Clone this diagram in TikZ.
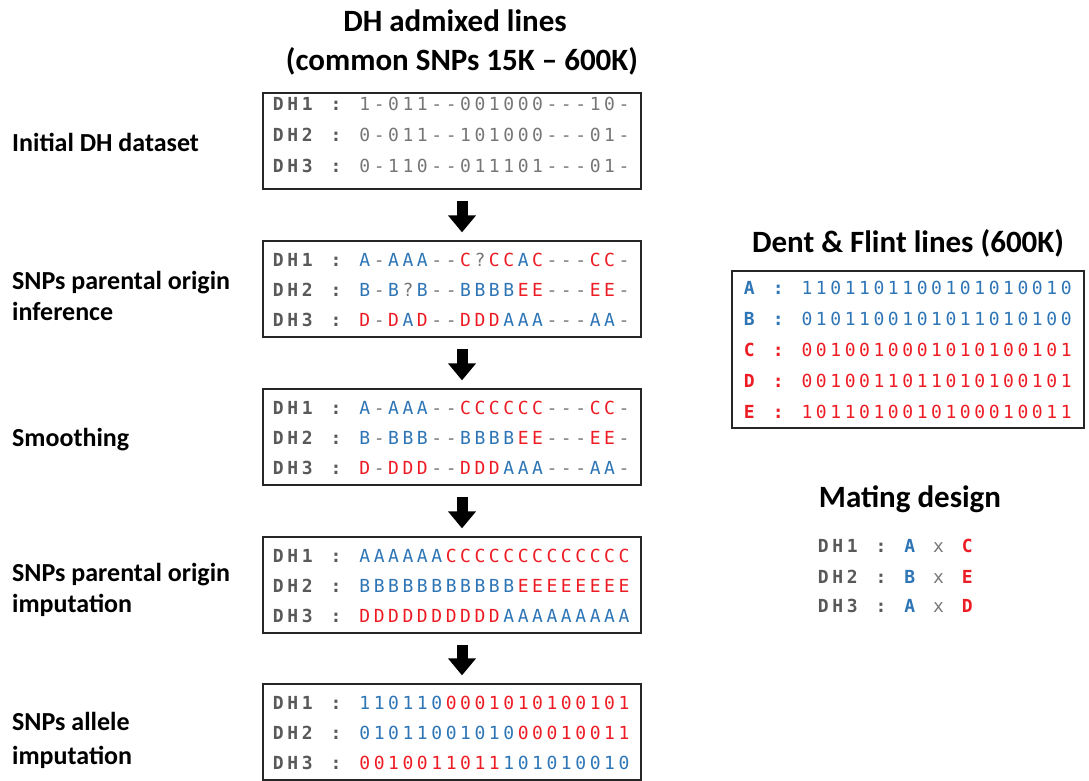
\documentclass[tikz,border=0pt]{standalone}
\usepackage{fontspec}
\setmainfont{Carlito}
\newfontfamily\monof{DejaVu Sans Mono}
\usetikzlibrary{arrows.meta}
\definecolor{cblue}{RGB}{46,117,182}
\definecolor{cred}{RGB}{237,28,36}
\definecolor{cgrey}{RGB}{89,89,89}
\definecolor{cdata}{RGB}{118,118,118}
\newlength\pch \setlength\pch{14.4pt}
\makeatletter
\def\chs#1{\chs@loop#1\relax}
\def\chs@loop#1{\ifx\relax#1\else\makebox[\pch]{#1}\expandafter\chs@loop\fi}
\makeatother
\newcommand\Bl[1]{\textcolor{cblue}{\chs{#1}}}
\newcommand\Rd[1]{\textcolor{cred}{\chs{#1}}}
\newcommand\Gr[1]{\textcolor{cdata}{\chs{#1}}}
\newcommand\spc{\makebox[\pch]{}}
\newcommand\dhl[1]{\textcolor{cgrey}{\bfseries\chs{#1}\spc\makebox[\pch]{:}\spc}}
\newcommand\pl[2]{\textcolor{#1}{\bfseries\chs{#2}\spc\makebox[\pch]{:}\spc}}
\tikzset{
  x=1pt, y=1pt,
  row/.style={anchor=base west, inner sep=0pt, font=\monof\fontsize{18}{18}\selectfont},
  box/.style={draw=black!85, line width=1.3pt, inner sep=0pt, minimum width=378pt, minimum height=96pt},
  ttl/.style={anchor=base, inner sep=0pt, font=\fontsize{31}{32}\selectfont\bfseries},
  lab/.style={anchor=base west, inner sep=0pt, font=\fontsize{26}{27}\selectfont\bfseries},
  bigarrow/.style={line width=11pt, -{Triangle[width=27pt,length=17pt]}, shorten <=11pt, shorten >=8pt}
}
\begin{document}
\begin{tikzpicture}
\useasboundingbox (0,0) rectangle (1089,-780);
% titles
\node[ttl] (t1) at (455,-31) {DH admixed lines};
\node[ttl] (t2) at (462,-70) {(common SNPs 15K -- 600K)};
% boxes
\node[box] (b1) at (452,-141) {};
\node[box] (b2) at (452,-289) {};
\node[box] (b3) at (452,-437) {};
\node[box] (b4) at (452,-585) {};
\node[box] (b5) at (452,-732) {};
% arrows
\coordinate (ax) at (462,0);
\draw[bigarrow] (b1.south -| ax) -- (b2.north -| ax);
\draw[bigarrow] (b2.south -| ax) -- (b3.north -| ax);
\draw[bigarrow] (b3.south -| ax) -- (b4.north -| ax);
\draw[bigarrow] (b4.south -| ax) -- (b5.north -| ax);
% box 1
\node[row] (r11) at (271,-110) {\dhl{DH1}\Gr{1-011--001000---10-}};
\node[row] (r12) at (271,-141) {\dhl{DH2}\Gr{0-011--101000---01-}};
\node[row] (r13) at (271,-172) {\dhl{DH3}\Gr{0-110--011101---01-}};
% box 2
\node[row] (r21) at (271,-266) {\dhl{DH1}\Bl{A}\Gr{-}\Bl{AAA}\Gr{--}\Rd{C}\Gr{?}\Rd{CC}\Bl{A}\Rd{C}\Gr{---}\Rd{CC}\Gr{-}};
\node[row] (r22) at (271,-296) {\dhl{DH2}\Bl{B}\Gr{-}\Bl{B}\Gr{?}\Bl{B}\Gr{--}\Bl{BBBB}\Rd{EE}\Gr{---}\Rd{EE}\Gr{-}};
\node[row] (r23) at (271,-326) {\dhl{DH3}\Rd{D}\Gr{-}\Rd{D}\Bl{A}\Rd{D}\Gr{--}\Rd{DDD}\Bl{AAA}\Gr{---}\Bl{AA}\Gr{-}};
% box 3
\node[row] (r31) at (271,-414) {\dhl{DH1}\Bl{A}\Gr{-}\Bl{AAA}\Gr{--}\Rd{CCCCCC}\Gr{---}\Rd{CC}\Gr{-}};
\node[row] (r32) at (271,-444) {\dhl{DH2}\Bl{B}\Gr{-}\Bl{BBB}\Gr{--}\Bl{BBBB}\Rd{EE}\Gr{---}\Rd{EE}\Gr{-}};
\node[row] (r33) at (271,-474) {\dhl{DH3}\Rd{D}\Gr{-}\Rd{DDD}\Gr{--}\Rd{DDD}\Bl{AAA}\Gr{---}\Bl{AA}\Gr{-}};
% box 4
\node[row] (r41) at (271,-562) {\dhl{DH1}\Bl{AAAAAA}\Rd{CCCCCCCCCCCCC}};
\node[row] (r42) at (271,-592) {\dhl{DH2}\Bl{BBBBBBBBBBB}\Rd{EEEEEEEE}};
\node[row] (r43) at (271,-622) {\dhl{DH3}\Rd{DDDDDDDDDD}\Bl{AAAAAAAAA}};
% box 5
\node[row] (r51) at (271,-709) {\dhl{DH1}\Bl{110110}\Rd{0001010100101}};
\node[row] (r52) at (271,-739) {\dhl{DH2}\Bl{01011001010}\Rd{00010011}};
\node[row] (r53) at (271,-769) {\dhl{DH3}\Rd{0010011011}\Bl{101010010}};
% left labels
\node[lab] (l1) at (12,-151) {Initial DH dataset};
\node[lab] (l2a) at (12,-289) {SNPs parental origin};
\node[lab] (l2b) at (12,-320) {inference};
\node[lab] (l3) at (12,-446) {Smoothing};
\node[lab] (l4a) at (12,-581) {SNPs parental origin};
\node[lab] (l4b) at (12,-612) {imputation};
\node[lab] (l5a) at (12,-730) {SNPs allele};
\node[lab] (l5b) at (12,-764) {imputation};
% right: Dent & Flint
\node[ttl] (t3) at (908,-252) {Dent \& Flint lines (600K)};
\node[box, minimum width=352pt, minimum height=157pt] (pb) at (908,-349.5) {};
\node[row] (pa) at (742,-294) {\pl{cblue}{A}\Bl{1101101100101010010}};
\node[row] (pbb) at (742,-325) {\pl{cblue}{B}\Bl{0101100101011010100}};
\node[row] (pc) at (742,-356) {\pl{cred}{C}\Rd{0010010001010100101}};
\node[row] (pd) at (742,-387) {\pl{cred}{D}\Rd{0010011011010100101}};
\node[row] (pe) at (742,-418) {\pl{cred}{E}\Rd{1011010010100010011}};
% mating design
\node[ttl] (t4) at (910,-507) {Mating design};
\node[row] (m1) at (816,-552) {\dhl{DH1}\textcolor{cblue}{\bfseries\chs{A}}\spc\Gr{x}\spc\textcolor{cred}{\bfseries\chs{C}}};
\node[row] (m2) at (816,-583) {\dhl{DH2}\textcolor{cblue}{\bfseries\chs{B}}\spc\Gr{x}\spc\textcolor{cred}{\bfseries\chs{E}}};
\node[row] (m3) at (816,-612) {\dhl{DH3}\textcolor{cblue}{\bfseries\chs{A}}\spc\Gr{x}\spc\textcolor{cred}{\bfseries\chs{D}}};
\end{tikzpicture}
\end{document}
